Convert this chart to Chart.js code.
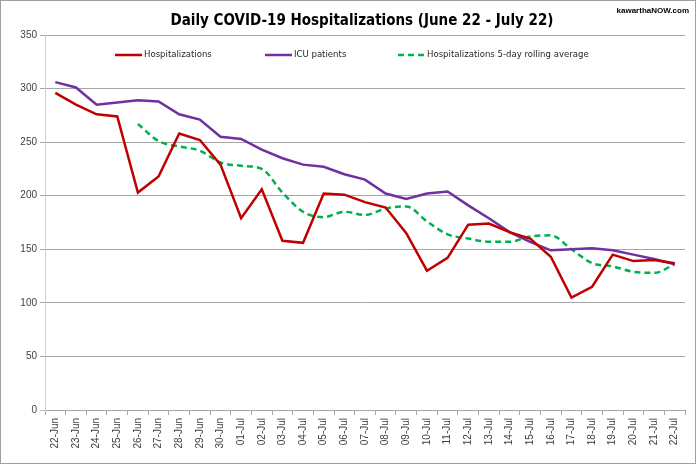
<!DOCTYPE html>
<html>
<head>
<meta charset="utf-8">
<script src="https://cdn.jsdelivr.net/npm/chart.js@4/dist/chart.umd.min.js"></script>
<style>
    html, body {
        margin: 0;
        padding: 0;
        background: #ffffff;
    }

    #wrap {
        width: 696px;
        height: 464px;
    }
</style>
</head>
<body>
<div id="wrap">
    <canvas id="grafico"></canvas>
</div>
<script>

const labels = [
    "22-Jun", "23-Jun", "24-Jun", "25-Jun", "26-Jun", "27-Jun",
    "28-Jun", "29-Jun", "30-Jun", "01-Jul", "02-Jul", "03-Jul",
    "04-Jul", "05-Jul", "06-Jul", "07-Jul", "08-Jul", "09-Jul",
    "10-Jul", "11-Jul", "12-Jul", "13-Jul", "14-Jul", "15-Jul",
    "16-Jul", "17-Jul", "18-Jul", "19-Jul", "20-Jul", "21-Jul",
    "22-Jul"
];

const hospitalizations = [
    296, 285, 276, 274, 203, 218, 258, 252, 229, 179, 206,
    158, 156, 202, 201, 194, 189, 165, 130, 142, 173, 174,
    166, 160, 143, 105, 115, 145, 139, 140, 137
];

const icuPatients = [
    306, 301, 285, 287, 289, 288, 276, 271, 255, 253, 243,
    235, 229, 227, 220, 215, 202, 197, 202, 204, 191, 179,
    166, 157, 149, 150, 151, 149, 145, 141, 136
];

const rollingAverage = [
    null, null, null, null, 267, 251, 246, 242, 231, 228, 225,
    203, 185, 180, 185, 182, 188, 190, 176, 164, 160, 157,
    157, 162, 163, 150, 137, 134, 129, 128, 136
];

const yTicks = [0, 50, 100, 150, 200, 250, 300, 350];

const fontNarrow =
    "'Liberation Sans Narrow', 'DejaVu Sans Condensed', sans-serif";

const fontTicks =
    "'Liberation Sans', Arial, sans-serif";

const textColor = "#404040";

const gridColor = "#a6a6a6";

// title, watermark, legend inside the plot and the outer frame
const extrasPlugin = {

    id: "extras",

    afterDraw(chart) {

        const ctx = chart.ctx;

        ctx.save();

        // outer frame
        ctx.strokeStyle = "#a0a0a0";
        ctx.lineWidth = 1;
        ctx.strokeRect(0.5, 0.5, 695, 463);

        // title
        ctx.fillStyle = "#000000";
        ctx.font = "bold 15px " + fontNarrow;
        ctx.textAlign = "center";
        ctx.textBaseline = "middle";
        ctx.fillText(
            "Daily COVID-19 Hospitalizations (June 22 - July 22)",
            362,
            21
        );

        // watermark
        ctx.font = "bold 8px " + fontTicks;
        ctx.textAlign = "right";
        ctx.fillText("kawarthaNOW.com", 689, 11);

        // legend
        const items = [
            { x: 115, ds: chart.data.datasets[0] },
            { x: 265, ds: chart.data.datasets[1] },
            { x: 398, ds: chart.data.datasets[2] }
        ];

        const y = 55;

        ctx.font = "9.5px " + fontNarrow;
        ctx.textAlign = "left";

        items.forEach(item => {

            ctx.strokeStyle = item.ds.borderColor;
            ctx.lineWidth = 2.5;
            ctx.setLineDash(item.ds.borderDash || []);
            ctx.beginPath();
            ctx.moveTo(item.x, y);
            ctx.lineTo(item.x + 27, y);
            ctx.stroke();
            ctx.setLineDash([]);

            ctx.fillStyle = "#262626";
            ctx.fillText(item.ds.label, item.x + 29, y);
        });

        ctx.restore();
    }
};

new Chart(
    document.getElementById("grafico"),
    {
        type: "line",

        data: {

            labels,

            datasets: [
                {
                    label: "Hospitalizations",
                    data: hospitalizations,
                    borderColor: "#c00000",
                    backgroundColor: "#c00000",
                    borderWidth: 2.5,
                    pointRadius: 0,
                    tension: 0
                },
                {
                    label: "ICU patients",
                    data: icuPatients,
                    borderColor: "#7030a0",
                    backgroundColor: "#7030a0",
                    borderWidth: 2.5,
                    pointRadius: 0,
                    tension: 0
                },
                {
                    label: "Hospitalizations 5-day rolling average",
                    data: rollingAverage,
                    borderColor: "#00b050",
                    backgroundColor: "#00b050",
                    borderWidth: 2.5,
                    borderDash: [6, 4],
                    pointRadius: 0,
                    cubicInterpolationMode: "monotone"
                }
            ]
        },

        options: {

            responsive: true,

            maintainAspectRatio: false,

            animation: false,

            layout: {
                padding: {
                    top: 35,
                    right: 11,
                    left: 0,
                    bottom: 0
                }
            },

            plugins: {
                legend: { display: false },
                title: { display: false },
                tooltip: { enabled: false }
            },

            scales: {

                x: {
                    offset: true,
                    afterFit: scale => {
                        scale.height = 54;
                    },
                    border: {
                        color: gridColor
                    },
                    grid: {
                        offset: true,
                        drawOnChartArea: false,
                        drawTicks: true,
                        tickLength: 5,
                        color: gridColor
                    },
                    ticks: {
                        autoSkip: false,
                        maxRotation: 90,
                        minRotation: 90,
                        padding: 3,
                        color: textColor,
                        font: {
                            family: fontTicks,
                            size: 10
                        }
                    }
                },

                y: {
                    min: 0,
                    max: 350,
                    afterFit: scale => {
                        scale.width = 45;
                    },
                    afterBuildTicks: scale => {
                        scale.ticks = yTicks.map(v => ({ value: v }));
                    },
                    border: {
                        color: "#d0d0d0"
                    },
                    grid: {
                        color: ctx =>
                            ctx.tick && ctx.tick.value === 0
                                ? "#bfbfbf"
                                : gridColor,
                        tickLength: 5
                    },
                    ticks: {
                        padding: 3,
                        color: textColor,
                        font: {
                            family: fontTicks,
                            size: 10
                        }
                    }
                }
            }
        },

        plugins: [extrasPlugin]
    }
);

</script>
</body>
</html>
